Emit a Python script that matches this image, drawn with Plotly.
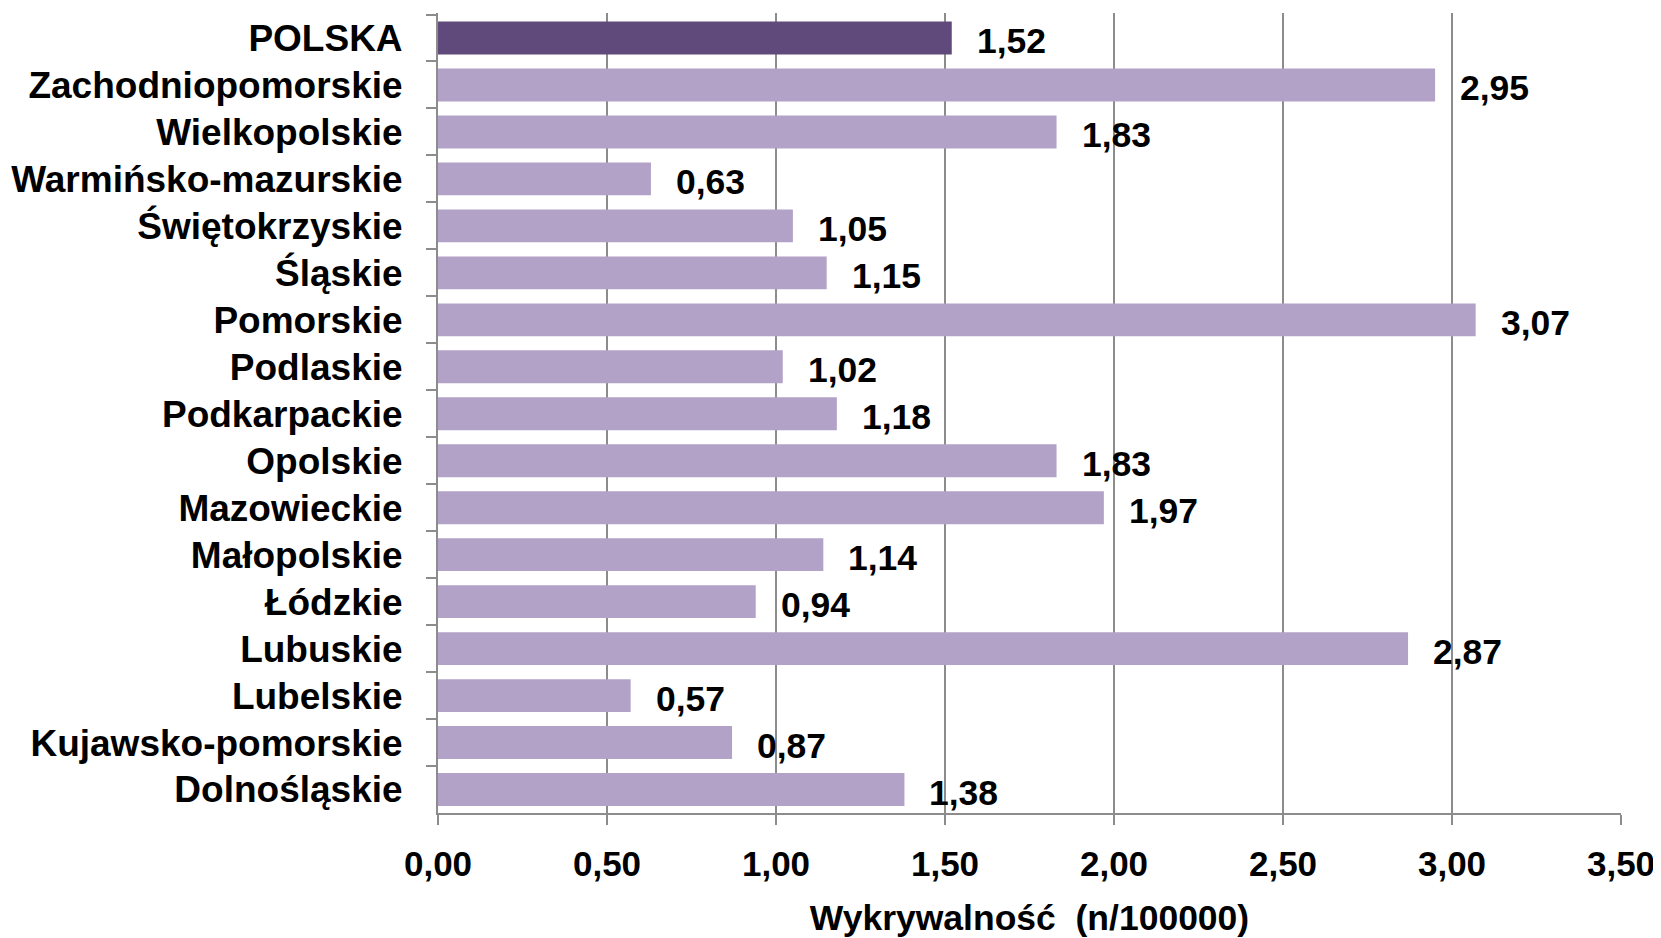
import plotly.graph_objects as go

categories = ["POLSKA", "Zachodniopomorskie", "Wielkopolskie", "Warmińsko-mazurskie",
              "Świętokrzyskie", "Śląskie", "Pomorskie", "Podlaskie", "Podkarpackie",
              "Opolskie", "Mazowieckie", "Małopolskie", "Łódzkie", "Lubuskie",
              "Lubelskie", "Kujawsko-pomorskie", "Dolnośląskie"]
values = [1.52, 2.95, 1.83, 0.63, 1.05, 1.15, 3.07, 1.02, 1.18, 1.83, 1.97,
          1.14, 0.94, 2.87, 0.57, 0.87, 1.38]
x_ticks = [0, 0.5, 1.0, 1.5, 2.0, 2.5, 3.0, 3.5]
x_title = "Wykrywalność  (n/100000)"

colors = ["#604a7b" if c == "POLSKA" else "#b3a2c7" for c in categories]
FONT = "Liberation Sans, Arial, sans-serif"

fig = go.Figure(go.Bar(
    x=values, y=categories, orientation="h",
    marker=dict(color=colors, line=dict(width=0)),
    hoverinfo="x+y",
))

for c, v in zip(categories, values):
    fig.add_annotation(x=v, y=c, text=f"{v:.2f}".replace(".", ","),
                       showarrow=False, xanchor="left", xshift=23, yshift=-3,
                       font=dict(family=FONT, size=35.5, color="black", weight="bold"))

# page body has an 8px default margin: figure is sized to fill the rest of the window
fig.update_layout(
    width=1653, height=930,
    margin=dict(l=430, r=40, t=5, b=125, pad=0),
    paper_bgcolor="white", plot_bgcolor="white",
    bargap=0.3,
    separators=", ",
    showlegend=False,
    font=dict(family=FONT, size=35, color="black", weight="bold"),
)
fig.update_xaxes(
    range=[0, 3.5], tickvals=x_ticks, tickformat=".2f",
    showgrid=True, gridcolor="#8c8c8c", gridwidth=2,
    showline=True, linecolor="#8c8c8c", linewidth=2,
    ticks="outside", ticklen=10, tickwidth=2, tickcolor="#8c8c8c",
    ticklabelstandoff=9, ticklabeloverflow="allow",
    tickfont=dict(family=FONT, size=35, color="black", weight="bold"),
    title=dict(text=x_title, standoff=24,
               font=dict(family=FONT, size=35.5, color="black", weight="bold")),
    zeroline=False, fixedrange=True, automargin=False,
)
fig.update_yaxes(
    categoryorder="array", categoryarray=categories, autorange="reversed",
    showline=True, linecolor="#8c8c8c", linewidth=2,
    ticks="outside", ticklen=10, tickwidth=2, tickcolor="#8c8c8c",
    tickson="boundaries", ticklabelstandoff=26, ticklabeloverflow="allow",
    tickfont=dict(family=FONT, size=37, color="black", weight="bold"),
    showgrid=False, zeroline=False, fixedrange=True, automargin=False,
)

fig.write_html("out.html")
